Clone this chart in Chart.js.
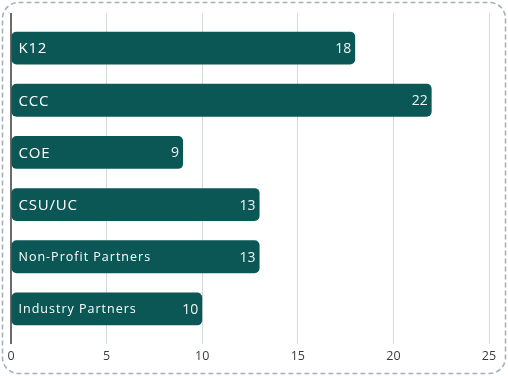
<!DOCTYPE html>
<html>
<head>
<meta charset="utf-8">
<script src="https://cdn.jsdelivr.net/npm/chart.js@4/dist/chart.umd.min.js"></script>
<style>
  html, body { margin: 0; padding: 0; background: #fff; }
  #wrap { position: relative; width: 508px; height: 376px; }
</style>
</head>
<body>
<div id="wrap"><canvas id="chart_partners"></canvas></div>
<script>
// values
const categories = ['K12', 'CCC', 'COE', 'CSU/UC', 'Non-Profit Partners', 'Industry Partners'];
const counts = [18, 22, 9, 13, 13, 10];
const xMin = 0;
const xMax = 25;
const xStep = 5;

const barColor = '#0b5756';
const fontFamily = '"Open Sans", "DejaVu Sans", sans-serif';

// dashed rounded frame round the whole card
const framePlugin = {
    id: 'frame',
    beforeDraw: (chart) => {
        const ctx = chart.ctx;
        ctx.save();
        ctx.fillStyle = 'white';
        ctx.fillRect(0, 0, chart.width, chart.height);
        ctx.strokeStyle = '#a6b0ba';
        ctx.lineWidth = 1.6;
        ctx.setLineDash([5, 3]);
        ctx.beginPath();
        ctx.roundRect(2.5, 2.5, chart.width - 5, chart.height - 5, 16);
        ctx.stroke();
        ctx.restore();
    }
};

// dark zero line, a little longer than the chart area like the grid lines
const zeroLinePlugin = {
    id: 'zeroLine',
    afterDraw: (chart) => {
        const ctx = chart.ctx;
        const x = chart.scales.x.getPixelForValue(0);
        const area = chart.chartArea;
        ctx.save();
        ctx.strokeStyle = '#3a3a3a';
        ctx.lineWidth = 1.5;
        ctx.beginPath();
        ctx.moveTo(x, area.top - 9);
        ctx.lineTo(x, area.bottom + 9);
        ctx.stroke();
        ctx.restore();
    }
};

// category name at the left of each bar, count at its right end
const barLabelPlugin = {
    id: 'barLabels',
    afterDatasetsDraw: (chart) => {
        const ctx = chart.ctx;
        const meta = chart.getDatasetMeta(0);
        ctx.save();
        ctx.textBaseline = 'middle';
        meta.data.forEach((bar, i) => {
            const name = chart.data.labels[i];
            const small = name.length > 10;
            ctx.fillStyle = '#ffffff';
            ctx.textAlign = 'left';
            ctx.font = (small ? '12.5px ' : '15px ') + fontFamily;
            ctx.letterSpacing = small ? '1px' : '0.8px';
            ctx.fillText(name, bar.base + 7, bar.y + 1);
            ctx.letterSpacing = '0px';
            ctx.textAlign = 'right';
            ctx.font = '14px ' + fontFamily;
            ctx.fillStyle = '#eef4f3';
            ctx.fillText(String(chart.data.datasets[0].data[i]), bar.x - 4, bar.y + 1);
        });
        ctx.restore();
    }
};

const chart_partners = new Chart(document.getElementById('chart_partners'), {
    type: 'bar',
    data: {
        labels: categories,
        datasets: [{
            label: 'Partners',
            data: counts,
            backgroundColor: barColor,
            borderRadius: 5,
            borderSkipped: false,
            categoryPercentage: 1,
            barPercentage: 0.63
        }]
    },
    options: {
        indexAxis: 'y',
        animation: false,
        responsive: true,
        maintainAspectRatio: false,
        layout: {
            padding: { left: 11, right: 19, top: 13, bottom: 7 }
        },
        plugins: {
            legend: { display: false },
            tooltip: { enabled: false }
        },
        scales: {
            x: {
                type: 'linear',
                position: 'bottom',
                min: xMin,
                max: xMax,
                ticks: {
                    stepSize: xStep,
                    padding: 5,
                    color: '#3c3c3c',
                    font: { family: fontFamily, size: 12.5 }
                },
                grid: {
                    color: (c) => c.tick && c.tick.value === 0 ? 'rgba(0,0,0,0)' : '#d3d8db',
                    lineWidth: 1,
                    tickLength: 9
                },
                border: { display: false }
            },
            xTop: {
                type: 'linear',
                position: 'top',
                min: xMin,
                max: xMax,
                ticks: { stepSize: xStep, display: false },
                grid: {
                    drawOnChartArea: false,
                    color: (c) => c.tick && c.tick.value === 0 ? 'rgba(0,0,0,0)' : '#d3d8db',
                    tickLength: 9
                },
                border: { display: false }
            },
            y: {
                type: 'category',
                display: false
            }
        }
    },
    plugins: [framePlugin, zeroLinePlugin, barLabelPlugin]
});
</script>
</body>
</html>
